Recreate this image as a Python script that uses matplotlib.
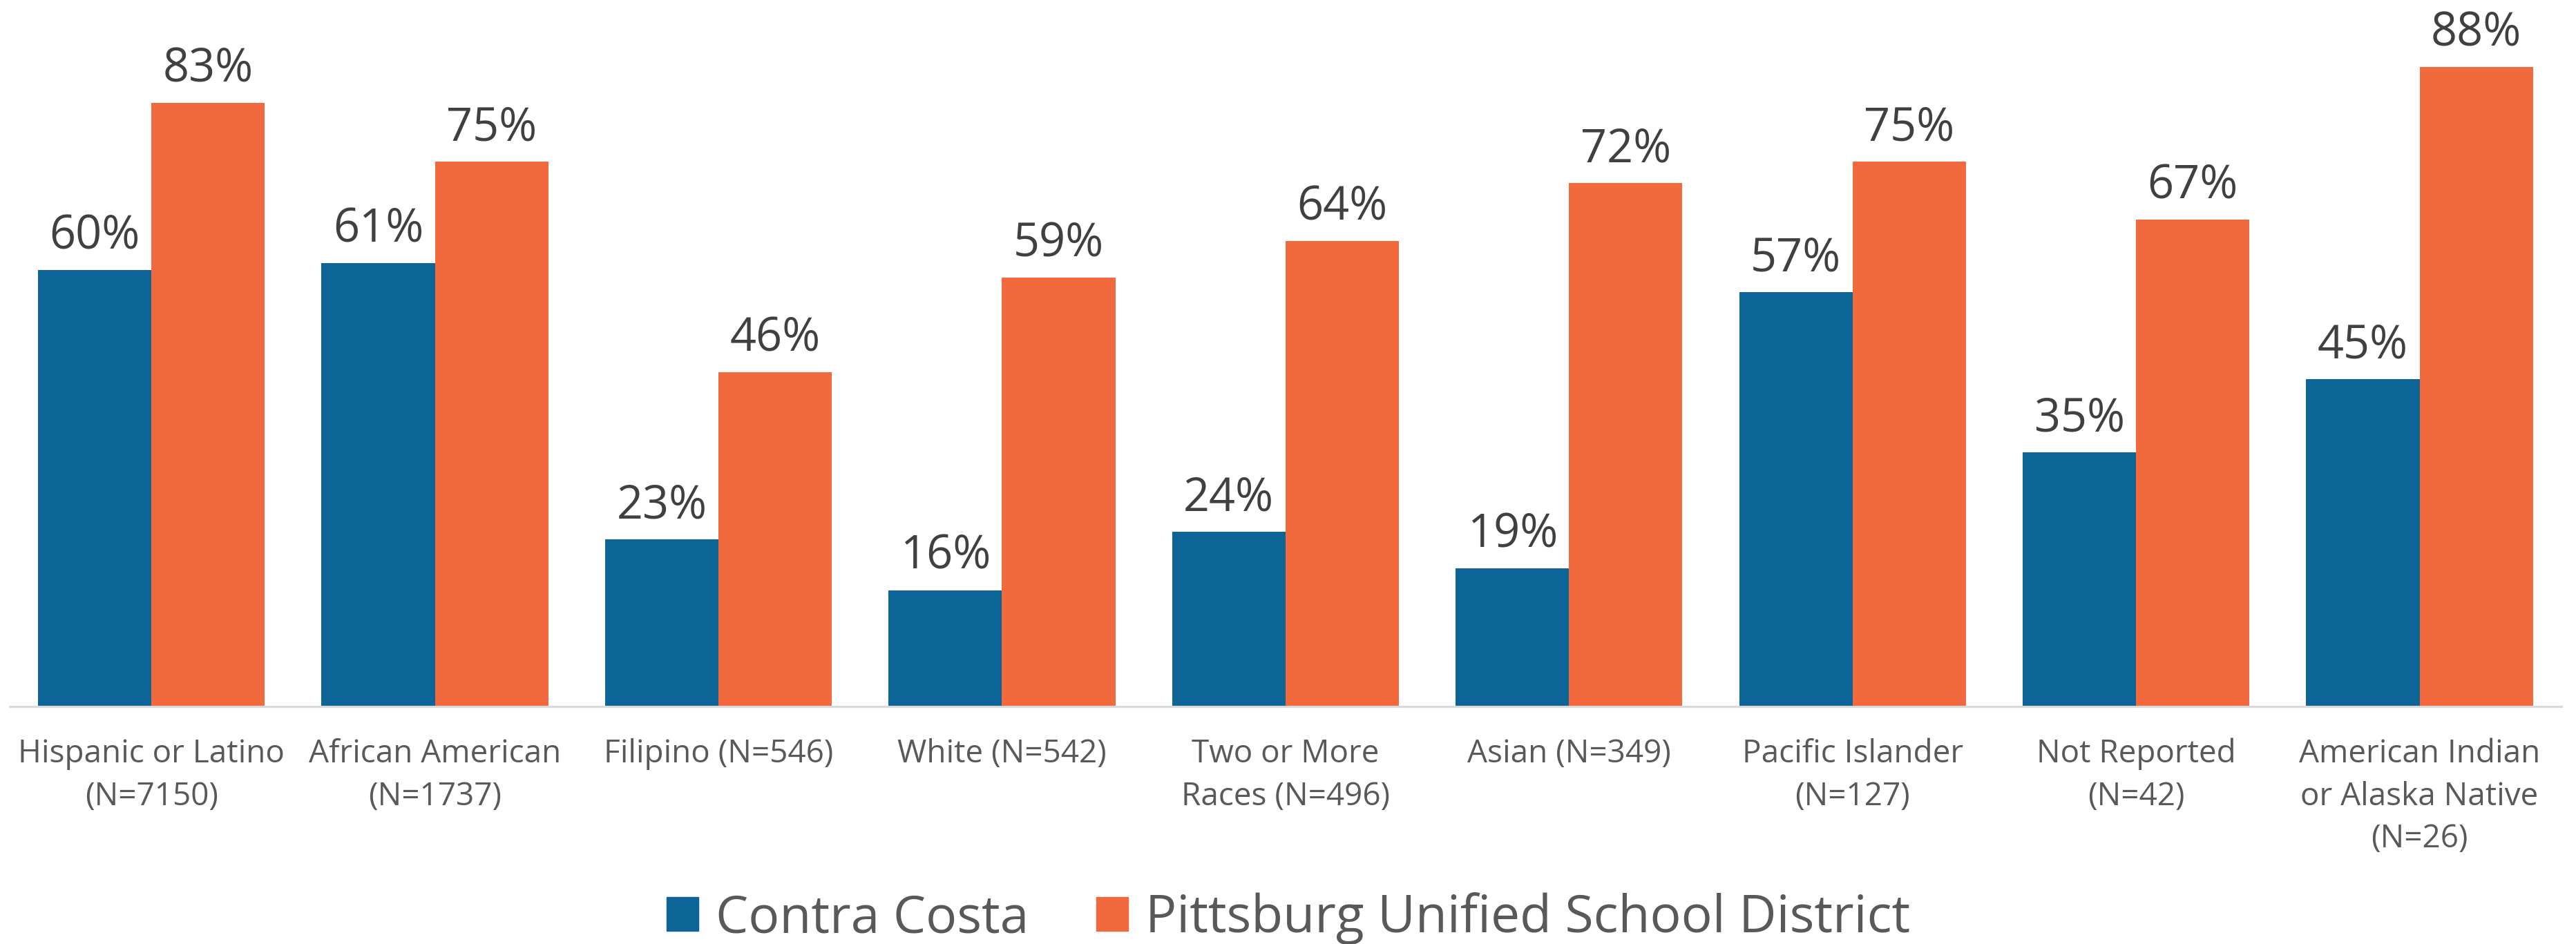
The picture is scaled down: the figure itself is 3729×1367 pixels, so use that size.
import numpy as np
import matplotlib
matplotlib.use("Agg")
import matplotlib.pyplot as plt
from matplotlib.patches import Patch

plt.rcParams['font.family'] = ['Open Sans', 'DejaVu Sans']

categories = ["Hispanic or Latino\n(N=7150)", "African American\n(N=1737)",
              "Filipino (N=546)", "White (N=542)", "Two or More\nRaces (N=496)",
              "Asian (N=349)", "Pacific Islander\n(N=127)", "Not Reported\n(N=42)",
              "American Indian\nor Alaska Native\n(N=26)"]
series_names = ["Contra Costa", "Pittsburg Unified School District"]
contra = [60, 61, 23, 16, 24, 19, 57, 35, 45]
pittsburg = [83, 75, 46, 59, 64, 72, 75, 67, 88]

blue = "#0C6497"
orange = "#F2693D"

fig = plt.figure(figsize=(37.30, 13.67), dpi=100)
ax = fig.add_axes([0.00375, 0.2517, 0.9903, 0.7483])

x = np.arange(len(categories))
w = 0.4
b1 = ax.bar(x - w / 2, contra, w, color=blue)
b2 = ax.bar(x + w / 2, pittsburg, w, color=orange)

for bars, vals in ((b1, contra), (b2, pittsburg)):
    for r, v in zip(bars, vals):
        ax.annotate(f"{v}%", (r.get_x() + r.get_width() / 2, r.get_height()),
                    xytext=(0, 22), textcoords="offset points",
                    ha="center", va="baseline", fontsize=48, color="#404040")

ax.set_xlim(-0.5, len(categories) - 0.5)
ax.set_ylim(0, 97.2)
ax.set_yticks([])
ax.set_xticks(x)
ax.set_xticklabels(categories, fontsize=33, color="#595959", linespacing=1.45)
ax.tick_params(axis="x", length=0, pad=33)
for s in ("top", "right", "left"):
    ax.spines[s].set_visible(False)
ax.spines["bottom"].set_color("#D9D9D9")
ax.spines["bottom"].set_linewidth(2.2)

handles = [Patch(color=blue), Patch(color=orange)]
fig.legend(handles, series_names, loc="center", bbox_to_anchor=(0.5, 0.027),
           ncol=2, frameon=False, fontsize=54, labelcolor="#595959",
           handlelength=0.62, handleheight=0.62, handletextpad=0.33,
           columnspacing=1.3)

fig.savefig("out.png", dpi=100)
